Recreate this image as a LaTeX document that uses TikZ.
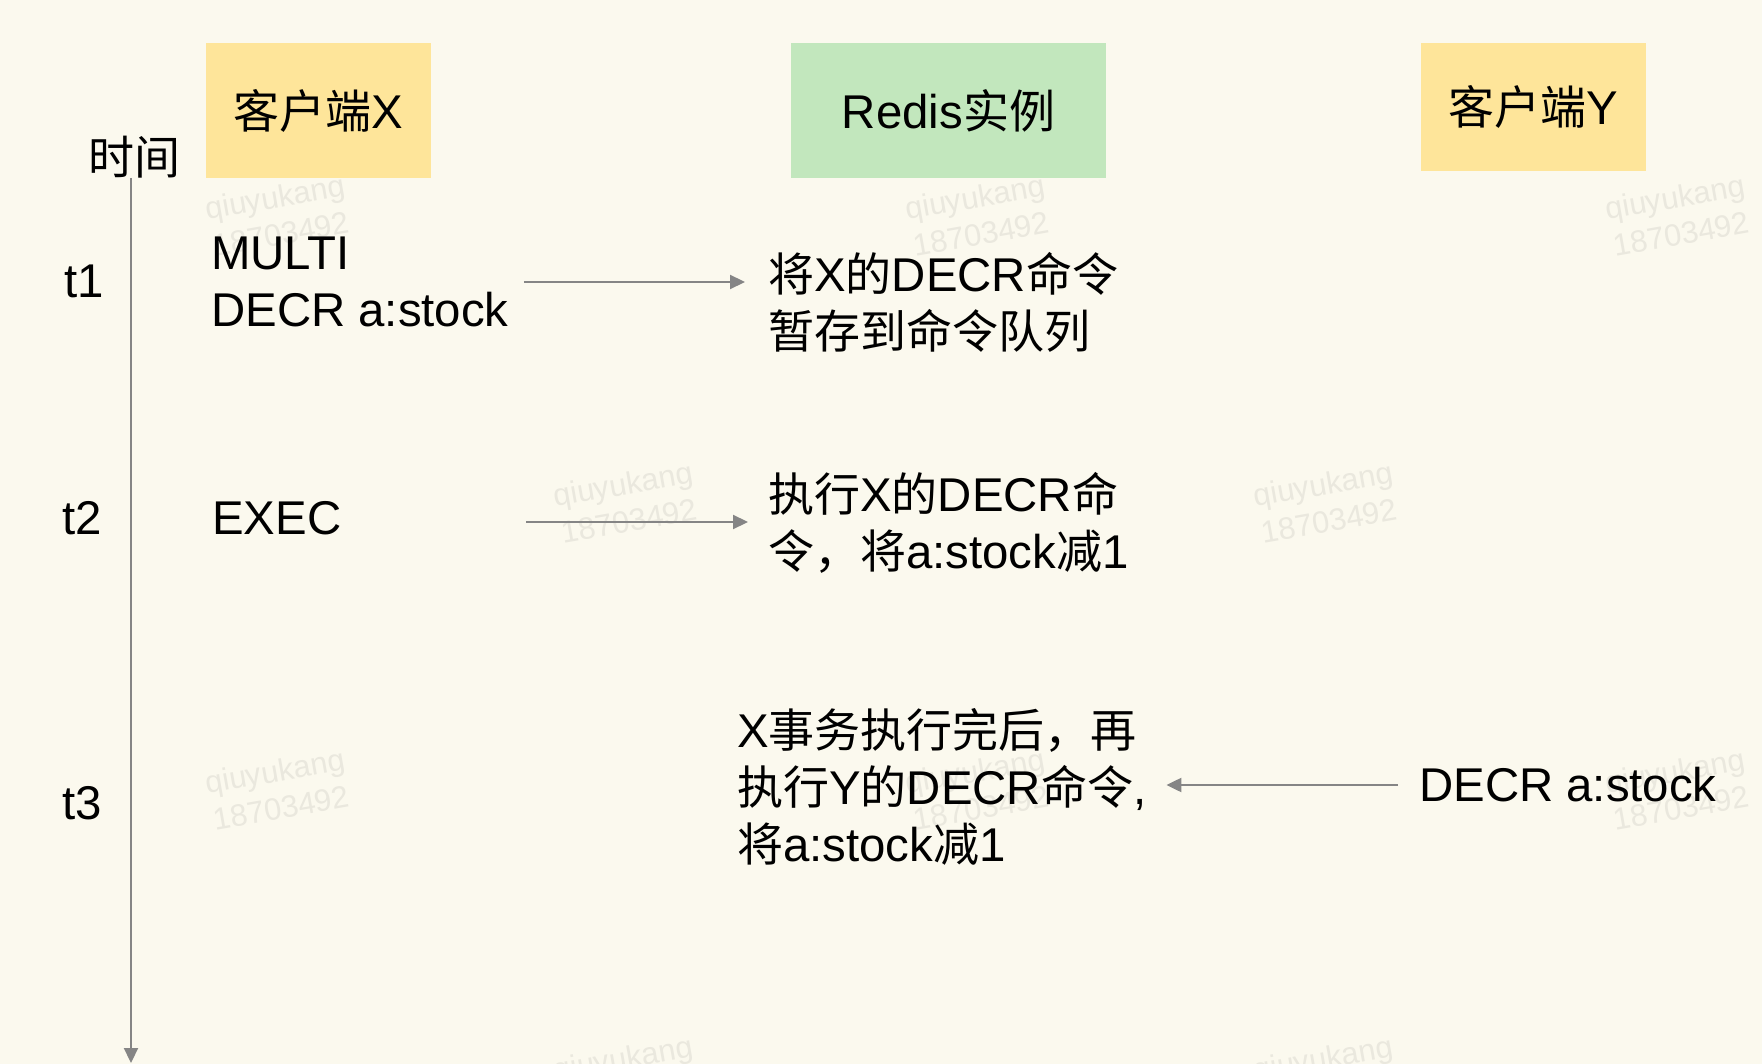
\documentclass[tikz,border=0pt]{standalone}
\usepackage{fontspec}
\setmainfont{Liberation Sans}[Scale=1.03]
\newfontfamily\cjk{Noto Sans CJK SC}
\newcommand{\zh}[1]{{\cjk #1}}
\newcommand{\fz}{\fontsize{46}{57}\selectfont}
\usetikzlibrary{arrows.meta}
\definecolor{bgc}{HTML}{FBF9EE}
\definecolor{yel}{HTML}{FEE59A}
\definecolor{grn}{HTML}{C2E7BD}
\definecolor{arr}{HTML}{858585}
\definecolor{wmc}{HTML}{EAE8DE}

\begin{document}
\begin{tikzpicture}[x=1pt,y=-1pt,
   hdr/.style={fill=#1,minimum width=225pt,minimum height=135pt,inner sep=0pt,font=\fz},
   hdr/.default=yel,
   txt/.style={anchor=west,align=left,inner sep=0pt,font=\fz},
   lbl/.style={inner sep=0pt,font=\fz},
   flow/.style={draw=arr,line width=2.2pt,-{Triangle[length=15pt,width=14pt]}},
   wmark/.style={rotate=10,align=center,text=wmc,inner sep=0pt,font=\fontsize{30}{37}\selectfont}]
 \useasboundingbox (0,0) rectangle (1762,1064);
 \clip (0,0) rectangle (1762,1064);
 \fill[bgc] (0,0) rectangle (1762,1064);

 % watermark
 \foreach \wx/\wy in {278/215,978/215,1678/215,626/502,1326/502,278/789,978/789,1678/789,626/1076,1326/1076}
   \node[wmark] (wm-\wx-\wy) at (\wx,\wy) {qiuyukang\\18703492};

 % headers
 \node[hdr] (hx) at (318.5,110.5) {\zh{客户端}X};
 \node[hdr=grn,minimum width=315pt] (hr) at (948.5,110.5) {Redis\zh{实例}};
 \node[hdr,minimum height=128pt] (hy) at (1533.5,107) {\zh{客户端}Y};

 % time axis
 \node[lbl] (tm) at (134,157) {\zh{时间}};
 \coordinate (ax0) at (131,178);
 \coordinate (ax1) at (131,1063);
 \draw[flow] (ax0) -- (ax1);
 \node[lbl] (t1) at (84,281) {t1};
 \node[lbl] (t2) at (82,518) {t2};
 \node[lbl] (t3) at (82,803) {t3};

 % t1
 \node[txt] (cx1) at (211,282) {MULTI\\DECR a:stock};
 \node[txt] (rd1) at (768,302) {\zh{将}X\zh{的}DECR\zh{命令}\\\zh{暂存到命令队列}};
 \draw[flow,shorten <=15pt,shorten >=23pt] (cx1.east) -- (cx1.east -| rd1.west);

 % t2
 \node[txt] (cx2) at (212,518) {EXEC};
 \node[txt] (rd2) at (768,523) {\zh{执行}X\zh{的}DECR\zh{命}\\\zh{令，将}a:stock\zh{减}1};
 \coordinate (s2) at (526,522);
 \draw[flow,shorten >=20pt] (s2) -- (s2 -| rd2.west);

 % t3
 \node[txt] (rd3) at (737,787) {X\zh{事务执行完后，再}\\\zh{执行}Y\zh{的}DECR\zh{命令},\\\zh{将}a:stock\zh{减}1};
 \node[txt] (cy3) at (1419,785) {DECR a:stock};
 \draw[flow,shorten <=21pt,shorten >=20pt] (cy3.west) -- (cy3.west -| rd3.east);
\end{tikzpicture}
\end{document}
